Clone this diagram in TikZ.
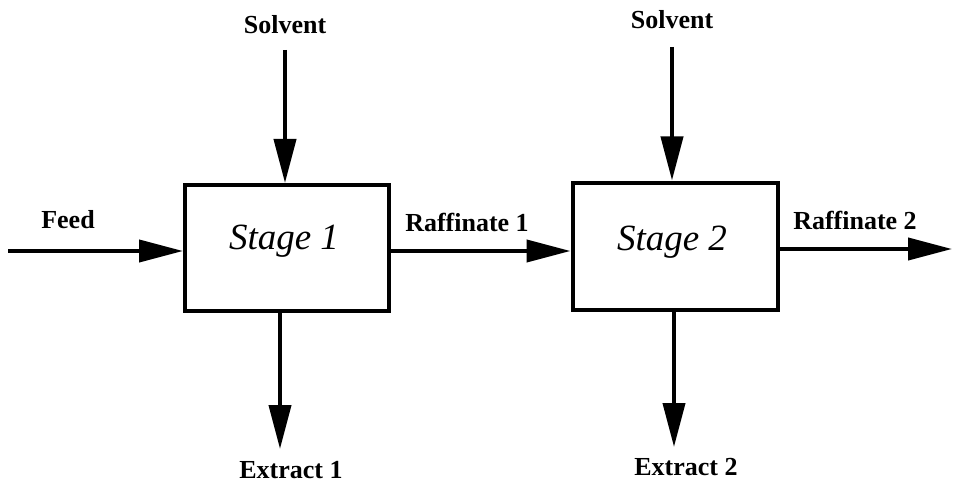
\documentclass[tikz,border=0pt]{standalone}
\usepackage{fontspec}
\setmainfont{Liberation Serif}
\usetikzlibrary{arrows.meta}
\tikzset{
  stagebox/.style={draw, line width=4pt, minimum width=204pt, minimum height=126pt, inner sep=0pt, font=\fontsize{37}{40}\selectfont\itshape},
  flow/.style={line width=4pt, -{Triangle[length=44pt, width=22pt]}},
  lbl/.style={font=\fontsize{26}{30}\selectfont\bfseries, inner sep=0pt}
}
\begin{document}
\begin{tikzpicture}[x=1pt,y=-1pt]
\useasboundingbox (0,0) rectangle (953,484);
\node[stagebox] (s1) at (287,248) {};
\node[stagebox, minimum width=205pt, minimum height=127pt] (s2) at (675,246) {};
\node[font=\fontsize{37}{40}\selectfont\itshape] (t1) at (284,241) {Stage 1};
\node[font=\fontsize{37}{40}\selectfont\itshape] (t2) at (672,242) {Stage 2};
% labels
\node[lbl] (feed) at (68,220) {Feed};
\node[lbl] (solv1) at (285,25) {Solvent};
\node[lbl] (solv2) at (672,20) {Solvent};
\node[lbl] (raf1) at (467,222) {Raffinate 1};
\node[lbl] (raf2) at (855,220) {Raffinate 2};
\node[lbl] (ext1) at (291,470) {Extract 1};
\node[lbl] (ext2) at (686,467) {Extract 2};
% free ends
\coordinate (fin) at (8,251);
\coordinate (sv1) at (285,50);
\coordinate (sv2) at (672,47);
\coordinate (ex1) at (280,449);
\coordinate (ex2) at (674,447);
\coordinate (rout) at (952,249);
% connectors
\draw[flow] (fin) -- (fin -| s1.west);
\draw[flow] (sv1) -- (sv1 |- s1.north);
\draw[flow] (sv2) -- (sv2 |- s2.north);
\draw[flow] (s1.east |- fin) -- (s2.west |- fin);
\draw[flow] (s2.east |- rout) -- (rout);
\draw[flow] (ex1 |- s1.south) -- (ex1);
\draw[flow] (ex2 |- s2.south) -- (ex2);
\end{tikzpicture}
\end{document}
